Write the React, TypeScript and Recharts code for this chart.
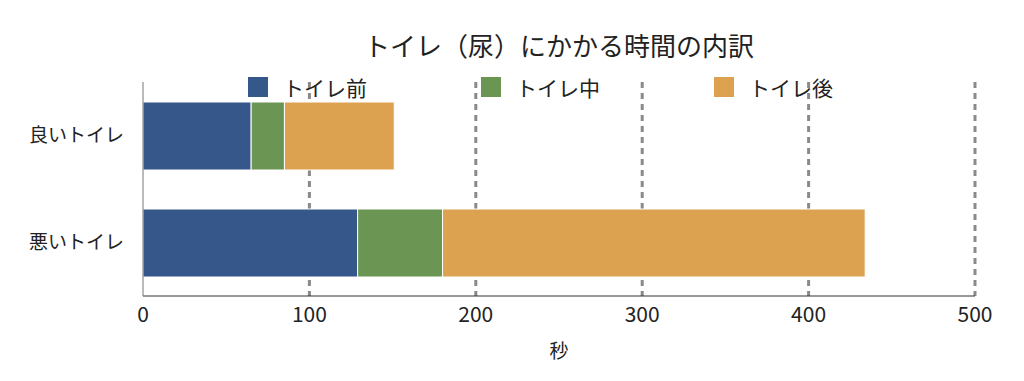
import { Bar, BarChart, CartesianGrid, XAxis, YAxis } from 'recharts';

const categories = ['良いトイレ', '悪いトイレ'];
const before = [65, 129];
const during = [20, 51];
const after = [66, 254];
const xTicks = [0, 100, 200, 300, 400, 500];

const seriesNames = ['トイレ前', 'トイレ中', 'トイレ後'];
const colors = ['#36578a', '#6a9552', '#dda250'];

const data = categories.map((name, i) => ({
  name,
  before: before[i],
  during: during[i],
  after: after[i],
}));

const font = '"Noto Sans CJK JP", "Noto Sans", sans-serif';

// grid lines only at the ticks right of zero (the y axis sits on zero)
function gridX(props: any) {
  const s = props?.xAxis?.scale;
  const off = props?.offset;
  const toX = (t: number) => {
    if (typeof s === 'function') return s(t);
    if (s && typeof s.map === 'function') return s.map(t);
    return off.left + (t / xTicks[xTicks.length - 1]) * off.width;
  };
  return xTicks.filter((t) => t > 0).map(toX);
}

export default function App() {
  return (
    <div
      style={{
        position: 'absolute',
        left: 0,
        top: 0,
        width: 1024,
        height: 381,
        background: '#fff',
        fontFamily: font,
        color: '#222',
      }}
    >
      <div
        style={{
          position: 'absolute',
          top: 27,
          left: 0,
          width: 1118,
          textAlign: 'center',
          fontSize: 26,
          lineHeight: '36px',
        }}
      >
        トイレ（尿）にかかる時間の内訳
      </div>
      <BarChart
        width={1024}
        height={381}
        data={data}
        layout="vertical"
        margin={{ top: 82, right: 49, bottom: 23, left: 0 }}
        style={{ position: 'absolute', left: 0, top: 0 }}
      >
        <CartesianGrid
          horizontal={false}
          stroke="#8a8a8a"
          strokeWidth={3}
          strokeDasharray="6 5"
          verticalCoordinatesGenerator={gridX}
        />
        <XAxis
          type="number"
          domain={[0, 500]}
          ticks={xTicks}
          tickLine={false}
          axisLine={{ stroke: '#333' }}
          tick={{ fontSize: 21, fill: '#222', fontFamily: font }}
          tickMargin={5}
          height={62}
          label={{
            value: '秒',
            position: 'insideBottom',
            offset: 0,
            fontSize: 19,
            fill: '#222',
            fontFamily: font,
          }}
        />
        <YAxis
          type="category"
          dataKey="name"
          width={143}
          tickLine={false}
          axisLine={{ stroke: '#777' }}
          tick={{ fontSize: 19, fill: '#222', fontFamily: font }}
          tickMargin={13}
        />
        <Bar dataKey="before" stackId="a" fill={colors[0]} stroke="#fff" strokeWidth={1} barSize={68} isAnimationActive={false} />
        <Bar dataKey="during" stackId="a" fill={colors[1]} stroke="#fff" strokeWidth={1} barSize={68} isAnimationActive={false} />
        <Bar dataKey="after" stackId="a" fill={colors[2]} stroke="#fff" strokeWidth={1} barSize={68} isAnimationActive={false} />
      </BarChart>
      {seriesNames.map((s, i) => (
        <div
          key={s}
          style={{
            position: 'absolute',
            top: 75,
            left: 248 + i * 233,
            display: 'flex',
            alignItems: 'center',
            fontSize: 21,
            lineHeight: '24px',
          }}
        >
          <span
            style={{
              display: 'inline-block',
              width: 20,
              height: 20,
              background: colors[i],
              marginRight: 15,
            }}
          />
          <span>{s}</span>
        </div>
      ))}
    </div>
  );
}
